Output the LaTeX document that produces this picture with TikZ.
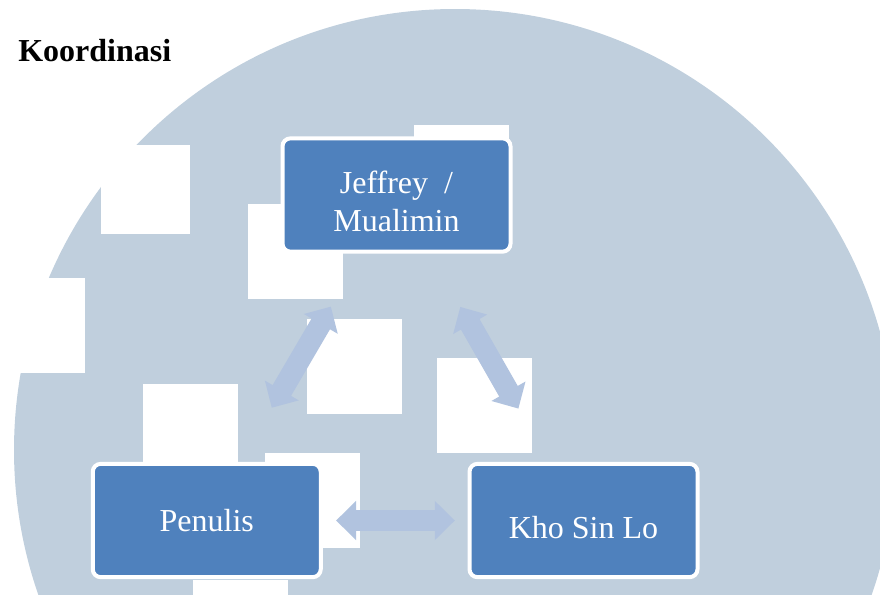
\documentclass[tikz,border=0pt]{standalone}
\usepackage{fontspec}
\setmainfont{Liberation Serif}
\usetikzlibrary{arrows.meta, calc, positioning}
\definecolor{discBg}{HTML}{C0CFDD}
\definecolor{boxBlue}{HTML}{4F81BD}
\definecolor{linkBlue}{HTML}{B1C3DF}
\tikzset{
    roleBox/.style={rectangle, rounded corners=6pt, draw=white, line width=3pt, fill=boxBlue, text=white, minimum width=171pt, minimum height=85pt, align=center, font=\fontsize{24}{28.5}\selectfont},
    titleText/.style={anchor=base west, inner sep=0pt, font=\bfseries\fontsize{24}{28}\selectfont},
    coordLink/.style={{Triangle[length=15pt, width=28.5pt]}-{Triangle[length=15pt, width=28.5pt]}, line width=16pt, draw=linkBlue},
}
\newcommand{\blankSquare}[2][95]{
    \fill[white] (#2) rectangle ++(#1,#1);
}
\newcommand{\coordLinkDraw}[4]{
    % both ends stop short of the boxes
    \draw[coordLink, shorten <=#3, shorten >=#4] #1 -- #2;
}

\begin{document}
\begin{tikzpicture}[x=0.75pt, y=-0.75pt]
        \useasboundingbox (0,0) rectangle (880,594);
        \clip (0,0) rectangle (880,594);

        \fill[discBg] (455,450) circle[radius=441];

        \blankSquare[89]{101,145}
        \blankSquare{-10,278}
        \blankSquare{248,204}
        \blankSquare{414,125}
        \blankSquare{307,319}
        \blankSquare{437,358}
        \blankSquare{143,384}
        \blankSquare{265,453}
        \blankSquare{193,580}

        \node[titleText] (title) at (18,61) {Koordinasi};

        \node[roleBox] (jeff) at (396.5,195) {\rule{0pt}{26pt}Jeffrey \ /\\Mualimin};
        \node[roleBox] (pen) at (206.75,520.5) {Penulis};
        \node[roleBox] (kho) at (583.5,520.5) {\rule{0pt}{27pt}Kho Sin Lo};

        \coordLinkDraw{([xshift=-26pt]jeff.south)}{([xshift=25pt]pen.north)}{46pt}{47pt}
        \coordLinkDraw{([xshift=25pt]jeff.south)}{([xshift=-26pt]kho.north)}{46pt}{46pt}
        \coordLinkDraw{(pen.east)}{(kho.west)}{10pt}{9.5pt}

    \end{tikzpicture}
\end{document}
